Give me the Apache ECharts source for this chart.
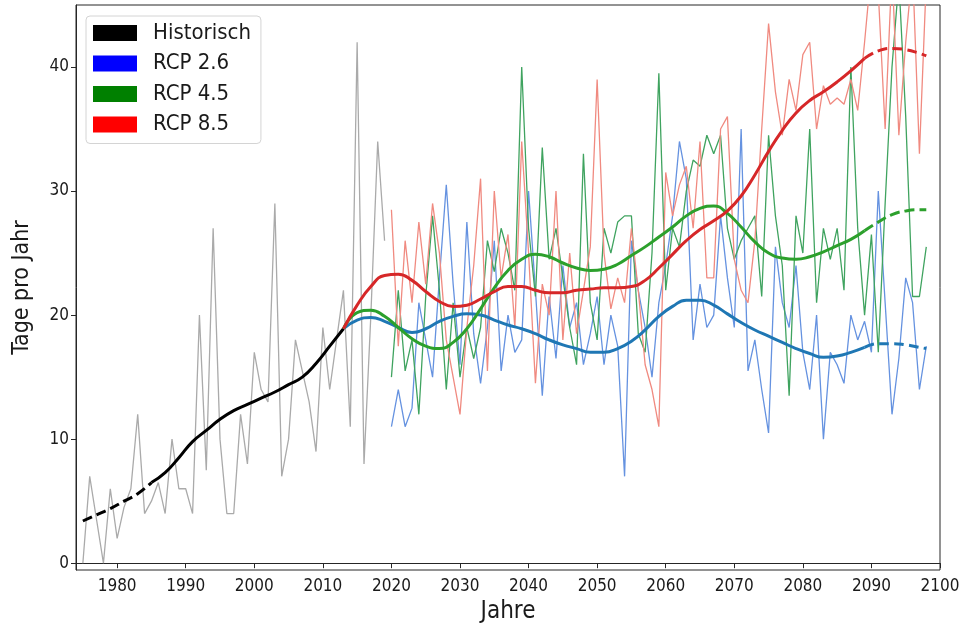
<!DOCTYPE html>
<html>
<head>
<meta charset="utf-8">
<script src="https://cdn.jsdelivr.net/npm/echarts@6/dist/echarts.min.js"></script>
<style>
  html, body { margin: 0; padding: 0; background: #fff; }
  #chart { width: 968px; height: 628px; }
</style>
</head>
<body>
<div id="chart"></div>
<script>
// Tage pro Jahr – historisch + RCP-Szenarien
const histStart = 1975
const histValues = [0, 7, 3.5, 0, 6, 2, 4.5, 6, 12, 4,
  5, 6.5, 4, 10, 6, 6, 4, 20, 7.5, 27,
  10, 4, 4, 12, 8, 17, 14, 13, 29, 7,
  10, 18, 15.5, 13, 9, 19, 14, 18, 22, 11,
  42, 8, 20, 34, 26]

const rcpStart = 2020
const rcp26Values = [11, 14, 11, 12.5, 21, 18, 15, 23, 30.5, 22.5,
  16, 27.5, 18.5, 14.5, 19, 26, 15.5, 20, 17, 18,
  30, 22, 13.5, 21.5, 16.5, 24, 19, 21, 16, 18.5,
  21.5, 16, 20, 17.5, 7, 26, 22, 19, 15, 21,
  24, 28, 34, 31, 18, 22.5, 19, 20, 28, 23,
  19, 35, 15.5, 18, 14, 10.5, 25.5, 21, 19, 24,
  17, 14, 20, 10, 17, 16, 14.5, 20, 18, 19.5,
  17, 30, 21, 12, 16.5, 23, 21, 14, 17.5]
const rcp45Values = [15, 22, 15.5, 18, 12, 21.5, 28, 22, 14, 21,
  15, 19, 16.5, 19, 26, 23.5, 27, 25, 22, 40,
  27, 21.5, 33.5, 24.5, 27, 23, 19, 16, 33, 21,
  18, 27, 25, 27.5, 28, 28, 18.5, 17, 25, 39.5,
  22, 27, 25.5, 30, 32.5, 32, 34.5, 33, 34.5, 27,
  24.5, 26, 27, 28, 21.5, 34.5, 28, 24, 13.5, 28,
  25, 35, 21, 27, 24.5, 27, 22, 40, 27, 20,
  26.5, 17, 29, 40, 47, 36, 21.5, 21.5, 25.5]
const rcp85Values = [28.5, 17.5, 26, 21, 27.5, 22.5, 29, 25, 18, 15,
  12, 19, 24, 31, 15.5, 30, 23, 26.5, 19, 34,
  25, 14.5, 22.5, 20, 30, 18, 25, 18.5, 22, 25.5,
  39, 25, 20.5, 23, 21, 27, 22, 16, 14, 11,
  31.5, 28, 30.5, 32, 27, 34, 23, 23, 35, 36,
  24.5, 22, 21, 26, 35, 43.5, 38, 34.5, 39, 36.5,
  41, 42, 35, 38.5, 37, 37.5, 37, 39, 36.5, 42,
  48, 46, 35, 48, 34.5, 42, 48, 33, 47]

// geglättete Kurven
const histSmoothYears = [1975, 1977, 1979, 1981, 1983, 1985, 1987, 1989, 1991, 1993,
  1995, 1997, 1999, 2001, 2003, 2005, 2007, 2009, 2011, 2013]
const histSmooth = [3.4, 3.9, 4.4, 5.0, 5.6, 6.5, 7.3, 8.5, 9.8, 10.7,
  11.6, 12.3, 12.8, 13.3, 13.8, 14.4, 15.0, 16.1, 17.5, 18.9]

const rcpSmoothYears = [2013, 2015, 2017, 2019, 2021, 2023, 2025, 2027, 2029, 2031,
  2033, 2035, 2037, 2039, 2041, 2043, 2045, 2047, 2049, 2051,
  2053, 2055, 2057, 2059, 2061, 2063, 2065, 2067, 2069, 2071,
  2073, 2075, 2077, 2079, 2081, 2083, 2085, 2087, 2089, 2091,
  2093, 2095, 2097, 2098]
const rcp26Smooth = [18.9, 19.6, 19.8, 19.5, 19.0, 18.6, 18.9, 19.5, 19.9, 20.1,
  20.0, 19.6, 19.2, 18.9, 18.5, 18.0, 17.6, 17.3, 17.0, 17.0,
  17.3, 17.9, 18.8, 19.9, 20.7, 21.2, 21.2, 20.8, 20.1, 19.4,
  18.8, 18.3, 17.8, 17.3, 16.9, 16.6, 16.7, 17.0, 17.4, 17.7,
  17.7, 17.6, 17.4, 17.3]
const rcp45Smooth = [18.9, 20.2, 20.4, 19.9, 19.0, 18.1, 17.5, 17.3, 17.8, 18.9,
  20.5, 22.2, 23.6, 24.5, 24.9, 24.7, 24.2, 23.8, 23.6, 23.7,
  24.1, 24.8, 25.5, 26.3, 27.1, 28.0, 28.6, 28.8, 28.2, 27.1,
  25.9, 25.0, 24.6, 24.5, 24.7, 25.1, 25.6, 26.1, 26.8, 27.5,
  28.1, 28.4, 28.5, 28.5]
const rcp85Smooth = [18.9, 20.8, 22.3, 23.2, 23.3, 22.8, 21.9, 21.1, 20.7, 20.8,
  21.3, 21.9, 22.3, 22.3, 22.0, 21.8, 21.8, 22.0, 22.1, 22.2,
  22.2, 22.3, 22.8, 23.8, 24.9, 26.0, 26.9, 27.6, 28.4, 29.6,
  31.3, 33.2, 34.9, 36.3, 37.3, 38.0, 38.8, 39.7, 40.7, 41.3,
  41.5, 41.4, 41.1, 40.9]

const histDashEnd = 1985   // gestrichelt bis hier
const rcpDashStart = 2089  // gestrichelt ab hier

const xTicks = [1980, 1990, 2000, 2010, 2020, 2030, 2040, 2050, 2060, 2070, 2080, 2090, 2100]
const yTicks = [0, 10, 20, 30, 40]

const font = "'DejaVu Sans Condensed', 'DejaVu Sans', sans-serif"

const yearly = (start, values) => values.map((v, i) => [start + i, v])
const pairs = (years, values) => years.map((y, i) => [y, values[i]])
const part = (pts, from, to) => pts.filter(p => p[0] >= from && p[0] <= to)

const thin = (name, data, color) => ({
  name,
  type: 'line',
  data,
  symbol: 'none',
  silent: true,
  z: 2,
  lineStyle: { width: 1.3, color }
})

const thick = (name, data, color, dashed) => ({
  name,
  type: 'line',
  data,
  symbol: 'none',
  smooth: 0.5,
  silent: true,
  z: 5,
  color,
  lineStyle: { width: 3, color, type: dashed ? [10, 5] : 'solid' }
})

const myChart = echarts.init(document.getElementById('chart'))

const hist = pairs(histSmoothYears, histSmooth)
const s26 = pairs(rcpSmoothYears, rcp26Smooth)
const s45 = pairs(rcpSmoothYears, rcp45Smooth)
const s85 = pairs(rcpSmoothYears, rcp85Smooth)

const option = {
  animation: false,
  backgroundColor: '#fff',
  grid: {
    left: 76,
    right: 28,
    top: 5,
    bottom: 58,
    outerBoundsMode: 'none',
    show: true,
    borderColor: '#262626',
    borderWidth: 1
  },
  legend: {
    orient: 'vertical',
    left: 86,
    top: 16,
    padding: [6, 10, 8, 7],
    itemGap: 8.5,
    itemWidth: 44,
    itemHeight: 16,
    icon: 'rect',
    selectedMode: false,
    backgroundColor: 'rgba(255,255,255,0.85)',
    borderColor: '#d4d4d4',
    borderWidth: 1,
    borderRadius: 4,
    itemStyle: { borderWidth: 0 },
    textStyle: {
      fontFamily: font,
      fontSize: 22,
      color: '#1a1a1a',
      padding: [0, 0, 0, 11]
    },
    data: [
      { name: 'Historisch', itemStyle: { color: '#000000' } },
      { name: 'RCP 2.6', itemStyle: { color: '#0000ff' } },
      { name: 'RCP 4.5', itemStyle: { color: '#008000' } },
      { name: 'RCP 8.5', itemStyle: { color: '#ff0000' } }
    ]
  },
  xAxis: {
    type: 'value',
    min: 1974,
    max: 2100,
    name: 'Jahre',
    nameLocation: 'middle',
    nameGap: 27,
    nameTextStyle: { fontFamily: font, fontSize: 24, color: '#1a1a1a' },
    splitLine: { show: false },
    axisLine: { show: true, lineStyle: { color: '#262626' } },
    axisTick: { show: true, length: 5, customValues: xTicks, lineStyle: { color: '#262626' } },
    axisLabel: {
      customValues: xTicks,
      formatter: v => String(v),
      fontFamily: font,
      fontSize: 17,
      color: '#1a1a1a',
      margin: 8
    }
  },
  yAxis: {
    type: 'value',
    min: -0.55,
    max: 45,
    name: 'Tage pro Jahr',
    nameLocation: 'middle',
    nameGap: 42,
    nameTextStyle: { fontFamily: font, fontSize: 23, color: '#1a1a1a' },
    splitLine: { show: false },
    axisLine: { show: true, lineStyle: { color: '#262626' } },
    axisTick: { show: true, length: 5, customValues: yTicks, lineStyle: { color: '#262626' } },
    axisLabel: {
      customValues: yTicks,
      formatter: v => String(v),
      fontFamily: font,
      fontSize: 17,
      color: '#1a1a1a',
      margin: 7
    }
  },
  series: [
    thin('hist_yearly', yearly(histStart, histValues), '#aaaaaa'),
    thin('rcp26_yearly', yearly(rcpStart, rcp26Values), '#6592e0'),
    thin('rcp45_yearly', yearly(rcpStart, rcp45Values), '#3fa35f'),
    thin('rcp85_yearly', yearly(rcpStart, rcp85Values), '#f08a80'),
    thick('hist_dash', part(hist, 1975, histDashEnd), '#000000', true),
    thick('Historisch', part(hist, histDashEnd, 2013), '#000000', false),
    thick('RCP 2.6', part(s26, 2013, rcpDashStart), '#1f77b4', false),
    thick('rcp26_dash', part(s26, rcpDashStart, 2098), '#1f77b4', true),
    thick('RCP 4.5', part(s45, 2013, rcpDashStart), '#2ca02c', false),
    thick('rcp45_dash', part(s45, rcpDashStart, 2098), '#2ca02c', true),
    thick('RCP 8.5', part(s85, 2013, rcpDashStart), '#d62728', false),
    thick('rcp85_dash', part(s85, rcpDashStart, 2098), '#d62728', true)
  ]
}

myChart.setOption(option)
</script>
</body>
</html>
